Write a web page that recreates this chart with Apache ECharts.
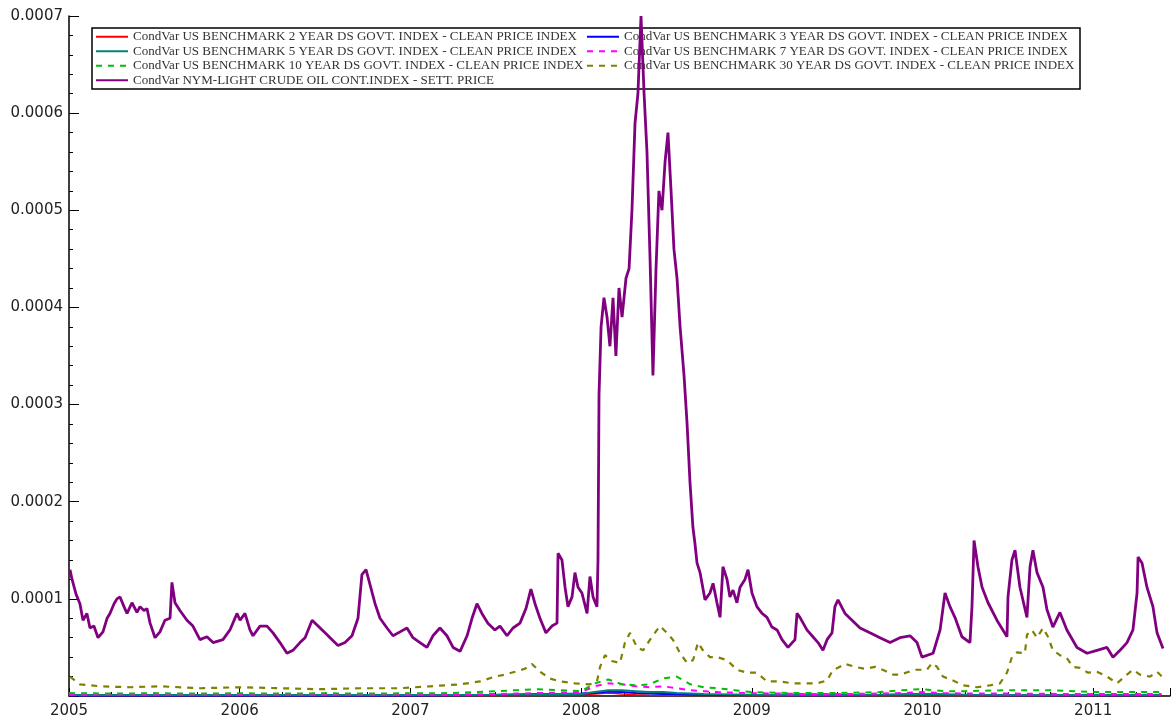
<!DOCTYPE html>
<html>
<head>
<meta charset="utf-8">
<script src="https://cdn.jsdelivr.net/npm/echarts@6/dist/echarts.min.js"></script>
<style>html,body{margin:0;padding:0;background:#fff}#c{width:1173px;height:722px}</style>
</head>
<body>
<div id="c"></div>
<script>
// values are in units of 1e-4
const SCALE = 1e-4;
const xTicks = [2005, 2006, 2007, 2008, 2009, 2010, 2011];
const seriesNames = [
  'CondVar US BENCHMARK 2 YEAR DS GOVT. INDEX - CLEAN PRICE INDEX',
  'CondVar US BENCHMARK 3 YEAR DS GOVT. INDEX - CLEAN PRICE INDEX',
  'CondVar US BENCHMARK 5 YEAR DS GOVT. INDEX - CLEAN PRICE INDEX',
  'CondVar US BENCHMARK 7 YEAR DS GOVT. INDEX - CLEAN PRICE INDEX',
  'CondVar US BENCHMARK 10 YEAR DS GOVT. INDEX - CLEAN PRICE INDEX',
  'CondVar US BENCHMARK 30 YEAR DS GOVT. INDEX - CLEAN PRICE INDEX',
  'CondVar NYM-LIGHT CRUDE OIL CONT.INDEX - SETT. PRICE'
];

const bondYears = [2005.0,2005.25,2005.5,2005.75,2006.0,2006.25,2006.5,2006.75,2007.0,2007.25,2007.5,2007.625,2007.75,2007.875,2008.0,2008.08,2008.16,2008.24,2008.32,2008.4,2008.48,2008.56,2008.64,2008.72,2008.8,2008.9,2009.0,2009.25,2009.5,2009.75,2009.875,2010.0,2010.125,2010.25,2010.5,2010.75,2011.0,2011.25,2011.4];
const bond2  = [0.005,0.004,0.004,0.004,0.004,0.004,0.004,0.004,0.004,0.004,0.005,0.006,0.008,0.010,0.012,0.020,0.030,0.020,0.012,0.008,0.006,0.006,0.005,0.005,0.005,0.005,0.005,0.004,0.004,0.004,0.005,0.006,0.005,0.004,0.004,0.004,0.004,0.004,0.004];
const bond3  = [0.006,0.006,0.006,0.006,0.006,0.006,0.006,0.006,0.006,0.007,0.010,0.015,0.020,0.020,0.025,0.030,0.045,0.040,0.030,0.025,0.020,0.020,0.015,0.012,0.010,0.010,0.010,0.008,0.008,0.010,0.015,0.020,0.015,0.010,0.008,0.008,0.008,0.008,0.008];
const bond5  = [0.010,0.010,0.010,0.010,0.010,0.010,0.010,0.010,0.010,0.010,0.012,0.015,0.018,0.020,0.020,0.040,0.060,0.060,0.050,0.040,0.040,0.030,0.025,0.020,0.018,0.015,0.012,0.010,0.010,0.012,0.015,0.020,0.015,0.012,0.010,0.010,0.010,0.010,0.010];
const bond7  = [0.015,0.015,0.015,0.015,0.015,0.015,0.015,0.015,0.015,0.016,0.020,0.025,0.030,0.035,0.040,0.100,0.130,0.120,0.100,0.090,0.100,0.080,0.060,0.050,0.040,0.035,0.030,0.022,0.020,0.025,0.030,0.040,0.030,0.025,0.025,0.022,0.020,0.020,0.020];
const bond10 = [0.030,0.025,0.028,0.025,0.028,0.025,0.028,0.025,0.028,0.030,0.050,0.060,0.070,0.060,0.050,0.130,0.170,0.120,0.110,0.120,0.180,0.200,0.120,0.090,0.080,0.060,0.040,0.030,0.030,0.040,0.060,0.070,0.050,0.050,0.060,0.060,0.040,0.040,0.040];

const bond30Years = [2005.006,2005.064,2005.182,2005.357,2005.533,2005.767,2006.002,2006.236,2006.470,2006.705,2006.939,2007.115,2007.291,2007.408,2007.496,2007.554,2007.613,2007.671,2007.712,2007.759,2007.818,2007.876,2007.964,2008.052,2008.093,2008.111,2008.140,2008.181,2008.228,2008.257,2008.287,2008.328,2008.363,2008.404,2008.445,2008.462,2008.503,2008.538,2008.580,2008.621,2008.656,2008.685,2008.714,2008.755,2008.796,2008.855,2008.913,2008.972,2009.030,2009.089,2009.165,2009.241,2009.323,2009.382,2009.441,2009.476,2009.505,2009.546,2009.605,2009.663,2009.722,2009.780,2009.827,2009.868,2009.956,2010.026,2010.056,2010.085,2010.120,2010.179,2010.237,2010.319,2010.395,2010.454,2010.495,2010.524,2010.554,2010.600,2010.612,2010.641,2010.671,2010.706,2010.735,2010.764,2010.805,2010.846,2010.882,2010.923,2010.970,2011.022,2011.081,2011.139,2011.198,2011.233,2011.274,2011.333,2011.374,2011.403];
const bond30 = [0.20,0.12,0.10,0.09,0.10,0.08,0.09,0.08,0.07,0.08,0.08,0.10,0.12,0.15,0.20,0.22,0.25,0.28,0.33,0.25,0.18,0.15,0.13,0.12,0.15,0.30,0.42,0.36,0.34,0.55,0.65,0.50,0.47,0.58,0.68,0.72,0.65,0.58,0.44,0.34,0.37,0.55,0.47,0.40,0.40,0.37,0.27,0.24,0.24,0.15,0.15,0.13,0.13,0.13,0.16,0.27,0.29,0.33,0.30,0.28,0.30,0.26,0.22,0.22,0.27,0.27,0.34,0.30,0.20,0.16,0.11,0.09,0.11,0.13,0.24,0.40,0.45,0.44,0.63,0.68,0.60,0.70,0.61,0.47,0.42,0.39,0.30,0.29,0.24,0.25,0.20,0.13,0.22,0.27,0.22,0.20,0.25,0.20];

const crudeYears = [2005.006,2005.018,2005.041,2005.064,2005.082,2005.105,2005.123,2005.146,2005.170,2005.199,2005.223,2005.240,2005.264,2005.281,2005.299,2005.322,2005.340,2005.369,2005.398,2005.416,2005.439,2005.457,2005.475,2005.504,2005.533,2005.562,2005.592,2005.603,2005.621,2005.650,2005.691,2005.726,2005.767,2005.808,2005.844,2005.902,2005.943,2005.984,2006.002,2006.031,2006.060,2006.078,2006.119,2006.160,2006.195,2006.236,2006.277,2006.312,2006.353,2006.383,2006.424,2006.459,2006.500,2006.541,2006.576,2006.617,2006.658,2006.693,2006.716,2006.740,2006.763,2006.793,2006.822,2006.863,2006.898,2006.939,2006.980,2007.015,2007.056,2007.097,2007.132,2007.173,2007.214,2007.250,2007.291,2007.332,2007.361,2007.390,2007.419,2007.454,2007.495,2007.525,2007.566,2007.601,2007.642,2007.677,2007.706,2007.730,2007.759,2007.794,2007.829,2007.859,2007.865,2007.888,2007.906,2007.923,2007.947,2007.964,2007.982,2008.005,2008.035,2008.052,2008.070,2008.093,2008.099,2008.105,2008.117,2008.134,2008.152,2008.169,2008.187,2008.204,2008.222,2008.240,2008.263,2008.281,2008.298,2008.316,2008.333,2008.351,2008.369,2008.386,2008.404,2008.421,2008.439,2008.456,2008.474,2008.492,2008.509,2008.527,2008.544,2008.562,2008.580,2008.603,2008.621,2008.638,2008.655,2008.667,2008.679,2008.697,2008.726,2008.755,2008.773,2008.796,2008.814,2008.831,2008.855,2008.872,2008.890,2008.913,2008.931,2008.960,2008.978,2009.001,2009.030,2009.060,2009.089,2009.118,2009.148,2009.177,2009.212,2009.253,2009.265,2009.282,2009.323,2009.358,2009.388,2009.417,2009.441,2009.470,2009.487,2009.505,2009.546,2009.575,2009.634,2009.692,2009.751,2009.810,2009.868,2009.927,2009.968,2009.997,2010.062,2010.103,2010.132,2010.161,2010.190,2010.231,2010.278,2010.290,2010.302,2010.325,2010.349,2010.384,2010.436,2010.495,2010.501,2010.524,2010.542,2010.571,2010.612,2010.630,2010.647,2010.671,2010.706,2010.729,2010.764,2010.805,2010.846,2010.905,2010.964,2011.022,2011.081,2011.116,2011.157,2011.198,2011.233,2011.257,2011.263,2011.286,2011.315,2011.350,2011.374,2011.409];
const crude = [1.30,1.20,1.05,0.95,0.78,0.85,0.70,0.72,0.60,0.66,0.80,0.85,0.95,1.00,1.02,0.92,0.85,0.96,0.86,0.92,0.88,0.90,0.75,0.60,0.66,0.78,0.80,1.17,0.96,0.88,0.78,0.72,0.58,0.61,0.55,0.58,0.68,0.85,0.78,0.85,0.68,0.62,0.72,0.72,0.65,0.55,0.44,0.47,0.55,0.60,0.78,0.72,0.65,0.58,0.52,0.55,0.62,0.80,1.25,1.30,1.15,0.95,0.80,0.70,0.62,0.66,0.70,0.60,0.55,0.50,0.62,0.70,0.62,0.50,0.46,0.62,0.80,0.95,0.85,0.75,0.68,0.72,0.62,0.70,0.75,0.90,1.10,0.95,0.80,0.65,0.72,0.75,1.47,1.40,1.12,0.92,1.02,1.27,1.12,1.06,0.85,1.23,1.02,0.92,1.40,3.10,3.80,4.10,3.90,3.60,4.10,3.50,4.20,3.90,4.30,4.40,5.00,5.90,6.20,7.00,6.20,5.60,4.50,3.30,4.40,5.20,5.00,5.50,5.80,5.20,4.60,4.30,3.80,3.30,2.80,2.20,1.74,1.57,1.37,1.27,0.99,1.06,1.16,0.96,0.81,1.33,1.20,1.02,1.09,0.96,1.12,1.20,1.30,1.06,0.92,0.85,0.81,0.71,0.68,0.58,0.50,0.58,0.85,0.81,0.68,0.61,0.55,0.47,0.58,0.65,0.92,0.99,0.85,0.80,0.70,0.65,0.60,0.55,0.60,0.62,0.55,0.40,0.44,0.68,1.06,0.92,0.81,0.61,0.55,0.92,1.60,1.33,1.12,0.96,0.78,0.61,1.02,1.40,1.50,1.12,0.81,1.33,1.50,1.27,1.12,0.89,0.71,0.86,0.68,0.50,0.44,0.47,0.50,0.40,0.47,0.55,0.68,1.06,1.43,1.37,1.12,0.92,0.65,0.49];

function pairs(xs, ys) { return xs.map((x, i) => [x, ys[i] * SCALE]); }

const defs = [
  { name: seriesNames[0], data: pairs(bondYears, bond2),  color: '#ff0000', type: 'solid', width: 1.5 },
  { name: seriesNames[1], data: pairs(bondYears, bond3),  color: '#0000ff', type: 'solid', width: 2 },
  { name: seriesNames[2], data: pairs(bondYears, bond5),  color: '#008080', type: 'solid', width: 2 },
  { name: seriesNames[3], data: pairs(bondYears, bond7),  color: '#ff00ff', type: [6, 6], width: 2 },
  { name: seriesNames[4], data: pairs(bondYears, bond10), color: '#00c000', type: [6, 6], width: 2 },
  { name: seriesNames[5], data: pairs(bond30Years, bond30), color: '#808000', type: [6, 6], width: 2.2 },
  { name: seriesNames[6], data: pairs(crudeYears, crude), color: '#800080', type: 'solid', width: 2.8 }
];

const chart = echarts.init(document.getElementById('c'), null, { renderer: 'canvas' });
chart.setOption({
  animation: false,
  backgroundColor: '#ffffff',
  grid: { left: 69, right: 3, top: 16, bottom: 26, containLabel: false },
  legend: {
    z: 1,
    left: 92, top: 28, width: 990,
    padding: [2, 4, 2, 3],
    itemGap: 1,
    itemWidth: 32, itemHeight: 10,
    borderColor: '#000', borderWidth: 1.5,
    backgroundColor: '#fff',
    itemStyle: { opacity: 0 },
    data: seriesNames,
    textStyle: { fontFamily: 'Liberation Serif', fontSize: 13, color: '#333', width: 452, lineHeight: 13.5 }
  },
  xAxis: {
    type: 'value', min: 2005, max: 2011.45, interval: 1,
    axisLine: { lineStyle: { color: '#000', width: 1.5 } },
    axisTick: { inside: true, length: 8, lineStyle: { color: '#000' } },
    minorTick: { show: true, splitNumber: 4, length: 4, lineStyle: { color: '#000' } },
    splitLine: { show: false },
    axisLabel: {
      fontFamily: 'DejaVu Sans', fontSize: 15, color: '#222', margin: 8,
      formatter: v => (xTicks.indexOf(v) >= 0 ? String(v) : '')
    }
  },
  yAxis: {
    type: 'value', min: 0, max: 0.0007, interval: 0.0001,
    axisLine: { show: true, lineStyle: { color: '#000', width: 1.5 } },
    axisTick: { show: true, inside: true, length: 10, lineStyle: { color: '#000' } },
    minorTick: { show: true, splitNumber: 5, length: 4, lineStyle: { color: '#000' } },
    splitLine: { show: false },
    axisLabel: {
      fontFamily: 'DejaVu Sans', fontSize: 15, color: '#222', margin: 6,
      formatter: v => (v === 0 ? '' : v.toFixed(4))
    }
  },
  series: defs.map(d => ({
    name: d.name, type: 'line', data: d.data,
    showSymbol: false, symbol: 'none',
    lineStyle: { color: d.color, type: d.type, width: d.width },
    itemStyle: { color: d.color },
    z: d.name === seriesNames[6] ? 5 : 3
  }))
});
</script>
</body>
</html>
